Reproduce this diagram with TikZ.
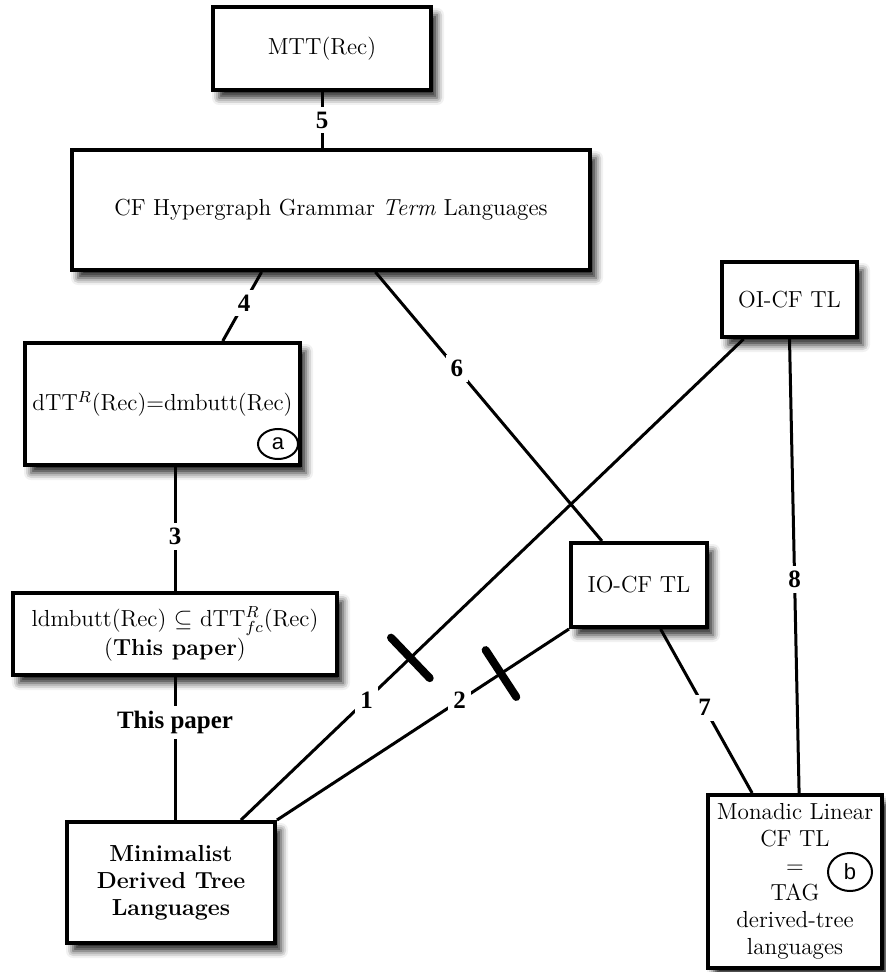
\documentclass[tikz,border=0pt]{standalone}
\usepackage{fontspec}
\newfontfamily\numfont{Liberation Serif}
\newfontfamily\tagfont{Liberation Sans}
\usetikzlibrary{calc, shapes.geometric, shadows.blur}

\begin{document}
\begin{tikzpicture}[
  x=0.5pt, y=-0.5pt,
  langbox/.style = {rectangle, draw, line width=2pt, fill=white, inner sep=2pt,
                    align=center, font=\fontsize{11.6}{13.5}\selectfont,
                    blur shadow={shadow xshift=3pt, shadow yshift=-4pt,
                                 shadow blur radius=3.5pt, shadow opacity=85}},
  link/.style    = {line width=1.5pt},
  num/.style     = {fill=white, inner sep=2.5pt,
                    font=\numfont\bfseries\fontsize{12.5}{14}\selectfont},
  negbar/.style  = {sloped, fill=black, rounded corners=2pt, minimum width=4pt,
                    minimum height=32pt, inner sep=0pt},
  tag/.style     = {ellipse, draw, line width=1pt, inner sep=0pt,
                    font=\tagfont\fontsize{11}{12}\selectfont}
]
\useasboundingbox (0,0) rectangle (886,972);
% Language classes
\node[langbox, minimum width=109pt, minimum height=41.5pt] (mtt) at (322,48.5) {MTT(Rec)};
\node[langbox, minimum width=259pt, minimum height=60pt] (cfhg) at (331,210)
  {CF Hypergraph Grammar \emph{Term} Languages};
\node[langbox, minimum width=67.5pt, minimum height=37.5pt] (oicf) at (789.5,299.5) {OI-CF TL};
\node[langbox, minimum width=137.5pt, minimum height=61pt] (dtt) at (162.5,404)
  {dTT$^R$(Rec)=dmbutt(Rec)};
\node[langbox, minimum width=162pt, minimum height=41pt,
      font=\fontsize{11.6}{14.5}\selectfont] (ldm) at (175,634)
  {ldmbutt(Rec) $\subseteq$ dTT$^R_{fc}$(Rec)\\(\textbf{This paper})};
\node[langbox, minimum width=68pt, minimum height=42pt] (iocf) at (639,585) {IO-CF TL};
\node[langbox, minimum width=104pt, minimum height=60.5pt,
      font=\fontsize{11.6}{13.5}\selectfont\bfseries] (mdtl) at (171,882.5)
  {Minimalist\\Derived Tree\\Languages};
\node[langbox, minimum width=87pt, minimum height=86.5pt] (mlcf) at (795,881.5)
  {Monadic Linear\\CF TL\\=\\TAG\\derived-tree\\languages};
% Tags
\node[tag, minimum width=20pt, minimum height=15pt] (taga) at (278,444) {a};
\node[tag, minimum width=22pt, minimum height=19pt] (tagb) at (850,872) {b};
% Inclusions
\draw[link] (mtt.south) -- node[num] {5} (mtt.south |- cfhg.north);
\draw[link] ($(cfhg.south west)!0.367!(cfhg.south east)$) -- node[num, pos=0.45] {4}
  ($(dtt.north west)!0.716!(dtt.north east)$);
\draw[link] ($(cfhg.south west)!0.585!(cfhg.south east)$) -- node[num, pos=0.36] {6}
  ($(iocf.north west)!0.235!(iocf.north east)$);
\draw[link] (ldm.north |- dtt.south) -- node[num, pos=0.56] {3} (ldm.north);
\draw[link] (ldm.south) -- node[num, pos=0.32] {This paper} (ldm.south |- mdtl.north);
\draw[link] ($(iocf.south west)!0.654!(iocf.south east)$) -- node[num, pos=0.48] {7}
  ($(mlcf.north west)!0.259!(mlcf.north east)$);
\draw[link] (oicf.south) -- node[num, pos=0.53] {8}
  ($(mlcf.north west)!0.523!(mlcf.north east)$);
% Non-inclusions
\draw[link] ($(mdtl.north west)!0.83!(mdtl.north east)$)
  -- node[negbar, pos=0.337] {} node[num, pos=0.25] {1}
  ($(oicf.south west)!0.17!(oicf.south east)$);
\draw[link] (mdtl.north east)
  -- node[negbar, pos=0.767] {} node[num, pos=0.625] {2} (iocf.south west);
\end{tikzpicture}
\end{document}
